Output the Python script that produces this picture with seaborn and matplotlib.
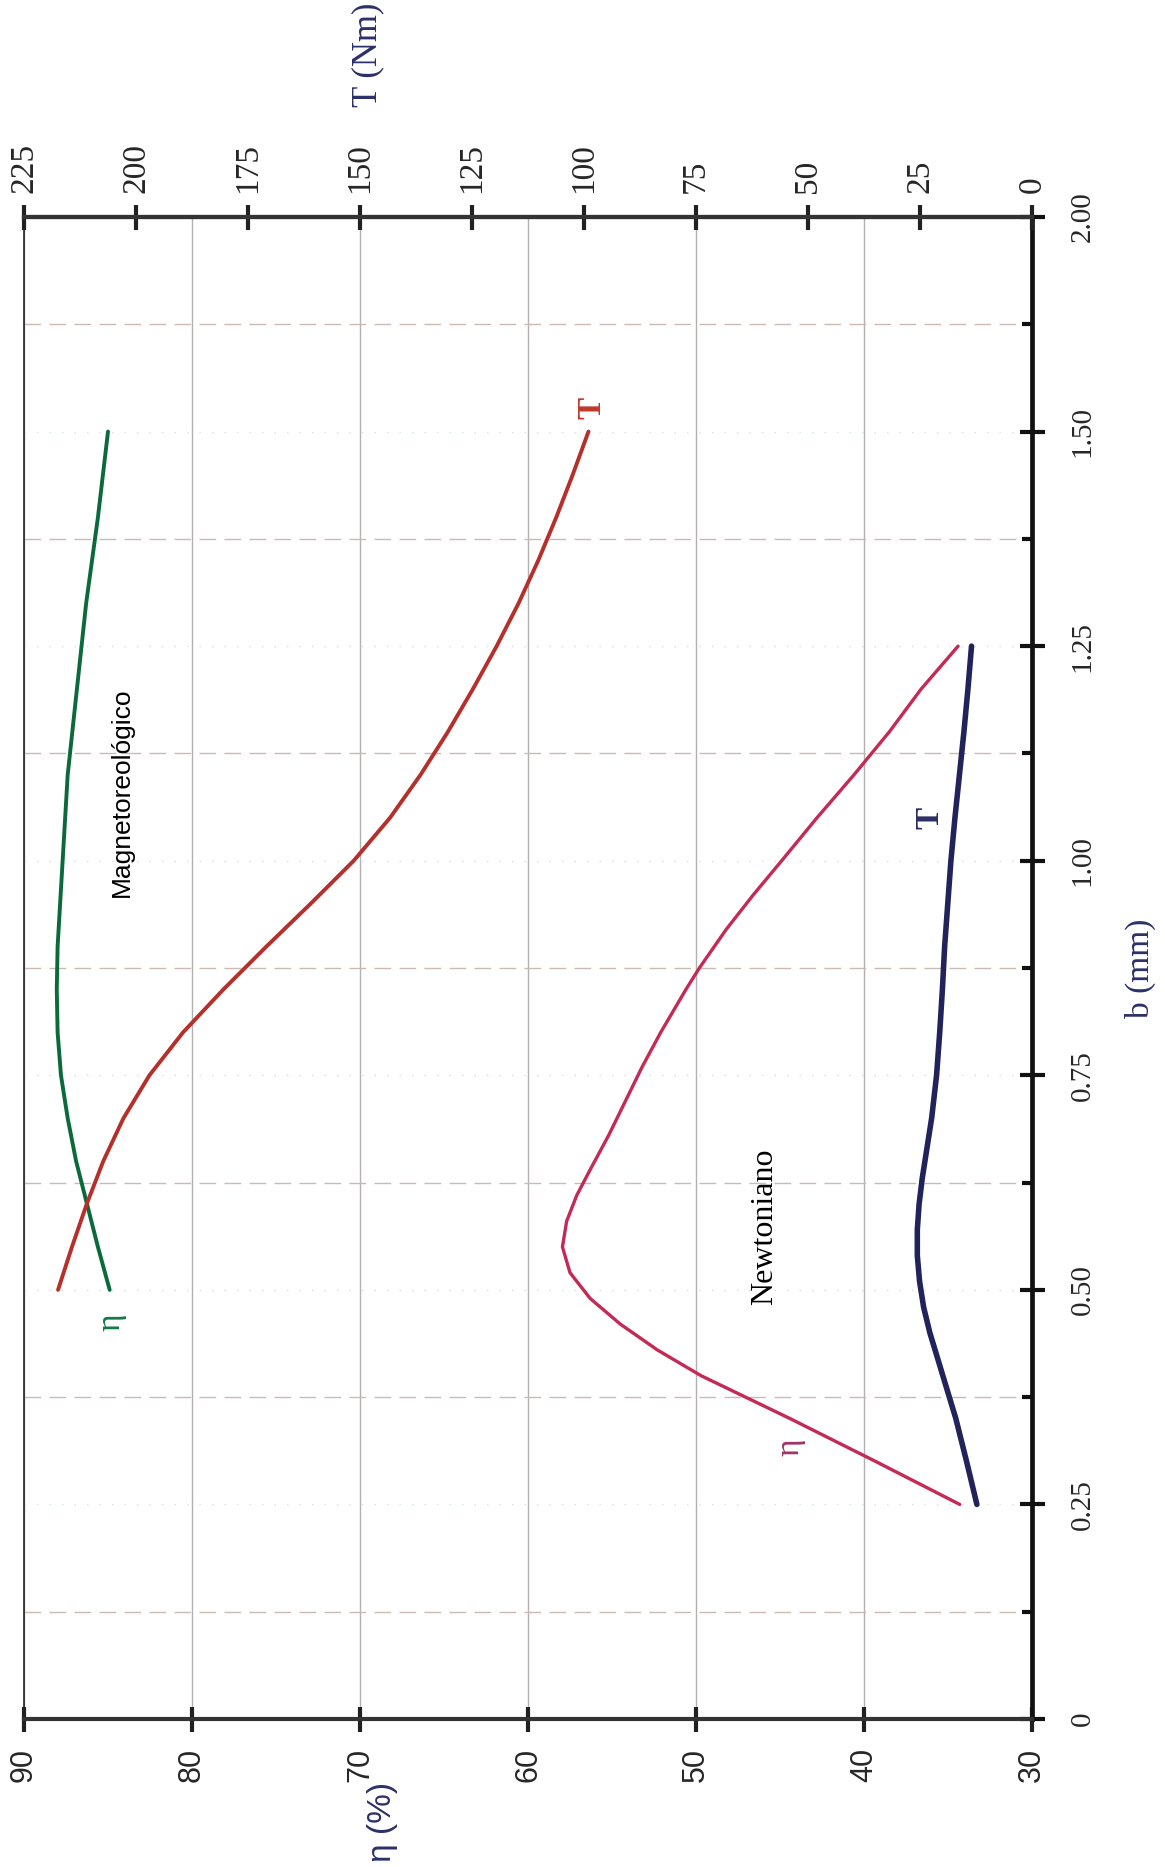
import matplotlib
matplotlib.use("Agg")
import matplotlib.pyplot as plt
import seaborn as sns

# chart is printed rotated: b (mm) runs upward, eta / T run right-to-left
# Magnetoreologico - efficiency eta (%) vs gap b (mm)
b_mr = [0.50, 0.55, 0.60, 0.65, 0.70, 0.75, 0.80, 0.85, 0.90, 0.95, 1.00, 1.10, 1.20,
        1.30, 1.40, 1.50]
eta_mr = [84.9, 85.6, 86.25, 86.9, 87.4, 87.8, 88.0, 88.05, 88.0, 87.85, 87.7, 87.4, 86.85,
          86.3, 85.6, 85.0]

# Magnetoreologico - torque T (Nm) vs b (mm)
b_mr_T = [0.50, 0.55, 0.60, 0.65, 0.70, 0.75, 0.80, 0.85, 0.90, 0.95, 1.00, 1.05, 1.10,
          1.15, 1.20, 1.25, 1.30, 1.35, 1.40, 1.45, 1.50]
T_mr = [217.4, 214.3, 211.0, 207.3, 202.8, 197.0, 189.5, 180.5, 170.9, 161.0, 151.4, 143.3,
        136.5, 130.4, 124.8, 119.5, 114.6, 110.2, 106.2, 102.5, 99.0]

# Newtoniano - eta (%)
b_nw = [0.25, 0.30, 0.35, 0.40, 0.43, 0.46, 0.49, 0.52, 0.55, 0.58, 0.61, 0.64, 0.68,
        0.72, 0.76, 0.80, 0.85, 0.875, 0.92, 0.96, 1.00, 1.05, 1.10, 1.15, 1.20, 1.25]
eta_nw = [34.3, 39.3, 44.4, 49.7, 52.3, 54.5, 56.3, 57.5, 57.95, 57.7, 57.1, 56.3, 55.2,
          54.2, 53.2, 52.1, 50.6, 49.8, 48.2, 46.6, 44.9, 42.8, 40.6, 38.5, 36.6, 34.4]

# Newtoniano - T (Nm)
b_nw_T = [0.25, 0.30, 0.35, 0.40, 0.45, 0.48, 0.51, 0.54, 0.57, 0.60, 0.63, 0.66, 0.70,
          0.75, 0.80, 0.85, 0.90, 0.95, 1.00, 1.05, 1.10, 1.15, 1.20, 1.25]
T_nw = [12.3, 14.6, 17.0, 19.9, 22.8, 24.2, 25.1, 25.6, 25.6, 25.2, 24.5, 23.6, 22.4,
        21.3, 20.6, 20.0, 19.5, 18.8, 18.1, 17.2, 16.2, 15.2, 14.3, 13.5]

eta_ticks = [90, 80, 70, 60, 50, 40, 30]
T_ticks = [225, 200, 175, 150, 125, 100, 75, 50, 25, 0]
b_ticks = [0, 0.25, 0.50, 0.75, 1.00, 1.25, 1.50, 1.75]
b_labels = ["0", "0.25", "0.50", "0.75", "1.00", "1.25", "1.50", "2.00"]
b_minor = [0.125, 0.375, 0.625, 0.875, 1.125, 1.375, 1.625]

sns.set_style("white")
plt.rcParams['font.family'] = ['Liberation Serif', 'DejaVu Serif']

navy = "#2c3068"
c_green, c_red, c_pink, c_navy = "#0b6a3c", "#b5302b", "#c42a55", "#22235a"

fig = plt.figure(figsize=(11.65, 18.67), dpi=100)
ax = fig.add_axes([24 / 1165, 1 - 1719 / 1867, (1032 - 24) / 1165, (1719 - 217) / 1867])
axT = ax.twiny()

ax.set_xlim(90, 30)
ax.set_ylim(0, 1.75)
axT.set_xlim(225, 0)

# grid
ax.set_axisbelow(True)
ax.set_xticks(eta_ticks)
ax.xaxis.grid(True, color="#b3b0b0", lw=1.0)
ax.set_yticks(b_ticks)
ax.set_yticks(b_minor, minor=True)
ax.yaxis.grid(True, which='minor', color="#cbbab4", lw=1.0, ls=(0, (12, 6)))
ax.yaxis.grid(True, which='major', color="#cfe2dc", lw=1.0, ls=(0, (1, 8)))

# curves
sns.lineplot(x=eta_mr, y=b_mr, ax=ax, color=c_green, lw=2.8, sort=False, estimator=None)
sns.lineplot(x=eta_nw, y=b_nw, ax=ax, color=c_pink, lw=2.4, sort=False, estimator=None)
sns.lineplot(x=T_mr, y=b_mr_T, ax=axT, color=c_red, lw=2.8, sort=False, estimator=None)
sns.lineplot(x=T_nw, y=b_nw_T, ax=axT, color=c_navy, lw=4.0, sort=False, estimator=None)

# axes frame
for s in ['top', 'bottom', 'left', 'right']:
    axT.spines[s].set_visible(False)
ax.spines['left'].set_linewidth(1.2)
ax.spines['left'].set_color("#222222")
ax.spines['top'].set_linewidth(3.0)
ax.spines['top'].set_color("#333333")
ax.spines['bottom'].set_linewidth(3.0)
ax.spines['bottom'].set_color("#333333")
ax.spines['right'].set_linewidth(3.4)
ax.spines['right'].set_color("#111111")
axT.spines['top'].set_visible(True)
axT.spines['top'].set_linewidth(3.0)
axT.spines['top'].set_color("#333333")

# eta axis (bottom)
ax.set_xticklabels([str(v) for v in eta_ticks], rotation=90,
                   fontfamily='Liberation Sans', fontsize=22)
ax.tick_params(axis='x', direction='inout', length=18, width=3, color="#222222", pad=12)

# b axis (right)
ax.yaxis.tick_right()
ax.set_yticklabels(b_labels, rotation=90, va='center', fontsize=21)
ax.tick_params(axis='y', which='major', direction='inout', length=18, width=3,
               color="#111111", pad=18, left=False, labelleft=False)
ax.tick_params(axis='y', which='minor', direction='in', length=7, width=3,
               color="#111111", left=False)

# T axis (top)
axT.set_xticks(T_ticks)
axT.set_xticklabels([str(v) for v in T_ticks], rotation=90, fontsize=24)
axT.tick_params(axis='x', direction='inout', length=18, width=3, color="#222222", pad=8)

# axis titles
fig.text(383 / 1165, 1 - 1822 / 1867, "η (%)", rotation=90, ha='center', va='center',
         color=navy, fontfamily='Liberation Sans', fontsize=24)
fig.text(368 / 1165, 1 - 55 / 1867, "T (Nm)", rotation=90, ha='center', va='center',
         color=navy, fontsize=25)
fig.text(1140 / 1165, 1 - 968 / 1867, "b (mm)", rotation=90, ha='center', va='center',
         color=navy, fontsize=24)

# curve annotations
ax.text(84.2, 1.08, "Magnetoreológico", rotation=90, ha='center', va='center',
        fontfamily='Liberation Sans', fontsize=19, color="black")
ax.text(45.9, 0.574, "Newtoniano", rotation=90, ha='center', va='center',
        fontsize=23, color="black")
ax.text(84.8, 0.462, "η", rotation=90, ha='center', va='center', fontsize=24, color="#127a48")
ax.text(44.4, 0.317, "η", rotation=90, ha='center', va='center', fontsize=24, color="#a0336a")
axT.text(98.2, 1.528, "T", rotation=90, ha='center', va='center', fontsize=24,
         fontweight='bold', color="#c0392b")
axT.text(22.8, 1.05, "T", rotation=90, ha='center', va='center', fontsize=24,
         fontweight='bold', color="#2c2f66")

fig.savefig("out.png", dpi=100)
